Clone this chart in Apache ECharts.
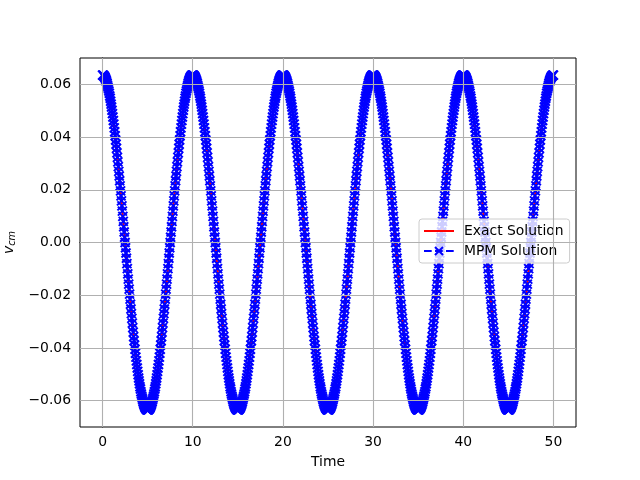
<!DOCTYPE html>
<html>
<head>
<meta charset="utf-8">
<script src="https://cdn.jsdelivr.net/npm/echarts@6/dist/echarts.min.js"></script>
<style>
  html, body { margin: 0; padding: 0; background: #fff; }
  #chart { width: 640px; height: 480px; }
</style>
</head>
<body>
<div id="chart"></div>
<script>
// sample spacing along Time (points read every 0.05)
const timeStep = 0.05;

// v_cm, one array per period (t = 0..10, 10..20, ...)
const vcmCycle1 = [
  .0635,.0635,.0634,.0632,.0630,.0627,.0624,.0620,.0615,.0610,
  .0604,.0597,.0590,.0583,.0575,.0566,.0556,.0547,.0536,.0525,
  .0514,.0502,.0489,.0476,.0463,.0449,.0435,.0420,.0405,.0389,
  .0373,.0357,.0340,.0323,.0306,.0288,.0270,.0252,.0234,.0215,
  .0196,.0177,.0158,.0139,.0119,.0099,.0080,.0060,.0040,.0020,
  0,-.0020,-.0040,-.0060,-.0080,-.0099,-.0119,-.0139,-.0158,-.0177,
  -.0196,-.0215,-.0234,-.0252,-.0270,-.0288,-.0306,-.0323,-.0340,-.0357,
  -.0373,-.0389,-.0405,-.0420,-.0435,-.0449,-.0463,-.0476,-.0489,-.0502,
  -.0514,-.0525,-.0536,-.0547,-.0556,-.0566,-.0575,-.0583,-.0590,-.0597,
  -.0604,-.0610,-.0615,-.0620,-.0624,-.0627,-.0630,-.0632,-.0634,-.0635,
  -.0635,-.0635,-.0634,-.0632,-.0630,-.0627,-.0624,-.0620,-.0615,-.0610,
  -.0604,-.0597,-.0590,-.0583,-.0575,-.0566,-.0556,-.0547,-.0536,-.0525,
  -.0514,-.0502,-.0489,-.0476,-.0463,-.0449,-.0435,-.0420,-.0405,-.0389,
  -.0373,-.0357,-.0340,-.0323,-.0306,-.0288,-.0270,-.0252,-.0234,-.0215,
  -.0196,-.0177,-.0158,-.0139,-.0119,-.0099,-.0080,-.0060,-.0040,-.0020,
  0,.0020,.0040,.0060,.0080,.0099,.0119,.0139,.0158,.0177,
  .0196,.0215,.0234,.0252,.0270,.0288,.0306,.0323,.0340,.0357,
  .0373,.0389,.0405,.0420,.0435,.0449,.0463,.0476,.0489,.0502,
  .0514,.0525,.0536,.0547,.0556,.0566,.0575,.0583,.0590,.0597,
  .0604,.0610,.0615,.0620,.0624,.0627,.0630,.0632,.0634,.0635
];
const vcmCycle2 = [
  .0635,.0635,.0634,.0632,.0630,.0627,.0624,.0620,.0615,.0610,
  .0604,.0597,.0590,.0583,.0575,.0566,.0556,.0547,.0536,.0525,
  .0514,.0502,.0489,.0476,.0463,.0449,.0435,.0420,.0405,.0389,
  .0373,.0357,.0340,.0323,.0306,.0288,.0270,.0252,.0234,.0215,
  .0196,.0177,.0158,.0139,.0119,.0099,.0080,.0060,.0040,.0020,
  0,-.0020,-.0040,-.0060,-.0080,-.0099,-.0119,-.0139,-.0158,-.0177,
  -.0196,-.0215,-.0234,-.0252,-.0270,-.0288,-.0306,-.0323,-.0340,-.0357,
  -.0373,-.0389,-.0405,-.0420,-.0435,-.0449,-.0463,-.0476,-.0489,-.0502,
  -.0514,-.0525,-.0536,-.0547,-.0556,-.0566,-.0575,-.0583,-.0590,-.0597,
  -.0604,-.0610,-.0615,-.0620,-.0624,-.0627,-.0630,-.0632,-.0634,-.0635,
  -.0635,-.0635,-.0634,-.0632,-.0630,-.0627,-.0624,-.0620,-.0615,-.0610,
  -.0604,-.0597,-.0590,-.0583,-.0575,-.0566,-.0556,-.0547,-.0536,-.0525,
  -.0514,-.0502,-.0489,-.0476,-.0463,-.0449,-.0435,-.0420,-.0405,-.0389,
  -.0373,-.0357,-.0340,-.0323,-.0306,-.0288,-.0270,-.0252,-.0234,-.0215,
  -.0196,-.0177,-.0158,-.0139,-.0119,-.0099,-.0080,-.0060,-.0040,-.0020,
  0,.0020,.0040,.0060,.0080,.0099,.0119,.0139,.0158,.0177,
  .0196,.0215,.0234,.0252,.0270,.0288,.0306,.0323,.0340,.0357,
  .0373,.0389,.0405,.0420,.0435,.0449,.0463,.0476,.0489,.0502,
  .0514,.0525,.0536,.0547,.0556,.0566,.0575,.0583,.0590,.0597,
  .0604,.0610,.0615,.0620,.0624,.0627,.0630,.0632,.0634,.0635
];
const vcmCycle3 = [
  .0635,.0635,.0634,.0632,.0630,.0627,.0624,.0620,.0615,.0610,
  .0604,.0597,.0590,.0583,.0575,.0566,.0556,.0547,.0536,.0525,
  .0514,.0502,.0489,.0476,.0463,.0449,.0435,.0420,.0405,.0389,
  .0373,.0357,.0340,.0323,.0306,.0288,.0270,.0252,.0234,.0215,
  .0196,.0177,.0158,.0139,.0119,.0099,.0080,.0060,.0040,.0020,
  0,-.0020,-.0040,-.0060,-.0080,-.0099,-.0119,-.0139,-.0158,-.0177,
  -.0196,-.0215,-.0234,-.0252,-.0270,-.0288,-.0306,-.0323,-.0340,-.0357,
  -.0373,-.0389,-.0405,-.0420,-.0435,-.0449,-.0463,-.0476,-.0489,-.0502,
  -.0514,-.0525,-.0536,-.0547,-.0556,-.0566,-.0575,-.0583,-.0590,-.0597,
  -.0604,-.0610,-.0615,-.0620,-.0624,-.0627,-.0630,-.0632,-.0634,-.0635,
  -.0635,-.0635,-.0634,-.0632,-.0630,-.0627,-.0624,-.0620,-.0615,-.0610,
  -.0604,-.0597,-.0590,-.0583,-.0575,-.0566,-.0556,-.0547,-.0536,-.0525,
  -.0514,-.0502,-.0489,-.0476,-.0463,-.0449,-.0435,-.0420,-.0405,-.0389,
  -.0373,-.0357,-.0340,-.0323,-.0306,-.0288,-.0270,-.0252,-.0234,-.0215,
  -.0196,-.0177,-.0158,-.0139,-.0119,-.0099,-.0080,-.0060,-.0040,-.0020,
  0,.0020,.0040,.0060,.0080,.0099,.0119,.0139,.0158,.0177,
  .0196,.0215,.0234,.0252,.0270,.0288,.0306,.0323,.0340,.0357,
  .0373,.0389,.0405,.0420,.0435,.0449,.0463,.0476,.0489,.0502,
  .0514,.0525,.0536,.0547,.0556,.0566,.0575,.0583,.0590,.0597,
  .0604,.0610,.0615,.0620,.0624,.0627,.0630,.0632,.0634,.0635
];
const vcmCycle4 = [
  .0635,.0635,.0634,.0632,.0630,.0627,.0624,.0620,.0615,.0610,
  .0604,.0597,.0590,.0583,.0575,.0566,.0556,.0547,.0536,.0525,
  .0514,.0502,.0489,.0476,.0463,.0449,.0435,.0420,.0405,.0389,
  .0373,.0357,.0340,.0323,.0306,.0288,.0270,.0252,.0234,.0215,
  .0196,.0177,.0158,.0139,.0119,.0099,.0080,.0060,.0040,.0020,
  0,-.0020,-.0040,-.0060,-.0080,-.0099,-.0119,-.0139,-.0158,-.0177,
  -.0196,-.0215,-.0234,-.0252,-.0270,-.0288,-.0306,-.0323,-.0340,-.0357,
  -.0373,-.0389,-.0405,-.0420,-.0435,-.0449,-.0463,-.0476,-.0489,-.0502,
  -.0514,-.0525,-.0536,-.0547,-.0556,-.0566,-.0575,-.0583,-.0590,-.0597,
  -.0604,-.0610,-.0615,-.0620,-.0624,-.0627,-.0630,-.0632,-.0634,-.0635,
  -.0635,-.0635,-.0634,-.0632,-.0630,-.0627,-.0624,-.0620,-.0615,-.0610,
  -.0604,-.0597,-.0590,-.0583,-.0575,-.0566,-.0556,-.0547,-.0536,-.0525,
  -.0514,-.0502,-.0489,-.0476,-.0463,-.0449,-.0435,-.0420,-.0405,-.0389,
  -.0373,-.0357,-.0340,-.0323,-.0306,-.0288,-.0270,-.0252,-.0234,-.0215,
  -.0196,-.0177,-.0158,-.0139,-.0119,-.0099,-.0080,-.0060,-.0040,-.0020,
  0,.0020,.0040,.0060,.0080,.0099,.0119,.0139,.0158,.0177,
  .0196,.0215,.0234,.0252,.0270,.0288,.0306,.0323,.0340,.0357,
  .0373,.0389,.0405,.0420,.0435,.0449,.0463,.0476,.0489,.0502,
  .0514,.0525,.0536,.0547,.0556,.0566,.0575,.0583,.0590,.0597,
  .0604,.0610,.0615,.0620,.0624,.0627,.0630,.0632,.0634,.0635
];
const vcmCycle5 = [
  .0635,.0635,.0634,.0632,.0630,.0627,.0624,.0620,.0615,.0610,
  .0604,.0597,.0590,.0583,.0575,.0566,.0556,.0547,.0536,.0525,
  .0514,.0502,.0489,.0476,.0463,.0449,.0435,.0420,.0405,.0389,
  .0373,.0357,.0340,.0323,.0306,.0288,.0270,.0252,.0234,.0215,
  .0196,.0177,.0158,.0139,.0119,.0099,.0080,.0060,.0040,.0020,
  0,-.0020,-.0040,-.0060,-.0080,-.0099,-.0119,-.0139,-.0158,-.0177,
  -.0196,-.0215,-.0234,-.0252,-.0270,-.0288,-.0306,-.0323,-.0340,-.0357,
  -.0373,-.0389,-.0405,-.0420,-.0435,-.0449,-.0463,-.0476,-.0489,-.0502,
  -.0514,-.0525,-.0536,-.0547,-.0556,-.0566,-.0575,-.0583,-.0590,-.0597,
  -.0604,-.0610,-.0615,-.0620,-.0624,-.0627,-.0630,-.0632,-.0634,-.0635,
  -.0635,-.0635,-.0634,-.0632,-.0630,-.0627,-.0624,-.0620,-.0615,-.0610,
  -.0604,-.0597,-.0590,-.0583,-.0575,-.0566,-.0556,-.0547,-.0536,-.0525,
  -.0514,-.0502,-.0489,-.0476,-.0463,-.0449,-.0435,-.0420,-.0405,-.0389,
  -.0373,-.0357,-.0340,-.0323,-.0306,-.0288,-.0270,-.0252,-.0234,-.0215,
  -.0196,-.0177,-.0158,-.0139,-.0119,-.0099,-.0080,-.0060,-.0040,-.0020,
  0,.0020,.0040,.0060,.0080,.0099,.0119,.0139,.0158,.0177,
  .0196,.0215,.0234,.0252,.0270,.0288,.0306,.0323,.0340,.0357,
  .0373,.0389,.0405,.0420,.0435,.0449,.0463,.0476,.0489,.0502,
  .0514,.0525,.0536,.0547,.0556,.0566,.0575,.0583,.0590,.0597,
  .0604,.0610,.0615,.0620,.0624,.0627,.0630,.0632,.0634,.0635
];
const vcmEnd = [.0635]; // t = 50

const xTicks = [0, 10, 20, 30, 40, 50];
const yTicks = [-0.06, -0.04, -0.02, 0, 0.02, 0.04, 0.06];

const vcm = [].concat(vcmCycle1, vcmCycle2, vcmCycle3, vcmCycle4, vcmCycle5, vcmEnd);
const points = vcm.map((v, i) => [+(i * timeStep).toFixed(2), v]);

const FONT = 'DejaVu Sans';
const chart = echarts.init(document.getElementById('chart'));

// grid lines via markLine so they sit on the tick values, not on min
const gridLines = xTicks.map(x => ({ xAxis: x })).concat(yTicks.map(y => ({ yAxis: y })));

const option = {
  animation: false,
  textStyle: { fontFamily: FONT },
  grid: {
    left: 80, right: 64, top: 58, bottom: 53,
    outerBoundsMode: 'none',
    containLabel: false,
    show: true, borderColor: '#000', borderWidth: 1, backgroundColor: 'transparent'
  },
  legend: {
    data: [
      { name: 'Exact Solution', itemStyle: { opacity: 0 } },
      { name: 'MPM Solution' }
    ],
    orient: 'vertical',
    left: 419, top: 219,
    padding: [5, 6, 5, 4],
    itemGap: 6,
    itemWidth: 30, itemHeight: 10,
    backgroundColor: 'rgba(255,255,255,0.8)',
    borderColor: '#cccccc', borderWidth: 1, borderRadius: 3,
    textStyle: { fontFamily: FONT, fontSize: 13.9, color: '#000', padding: [0, 0, 0, 5] }
  },
  xAxis: {
    type: 'value',
    min: -2.5, max: 52.5,
    name: 'Time', nameLocation: 'middle', nameGap: 28,
    nameTextStyle: { fontFamily: FONT, fontSize: 13.9, color: '#000' },
    axisLine: { show: true, lineStyle: { color: '#000', width: 1 } },
    axisTick: { show: true, length: 5, lineStyle: { color: '#000', width: 1 }, customValues: xTicks },
    axisLabel: { fontFamily: FONT, fontSize: 13.9, color: '#000', margin: 8, customValues: xTicks,
      formatter: v => String(v) },
    splitLine: { show: false }
  },
  yAxis: {
    type: 'value',
    min: -0.07, max: 0.07,
    name: '{v|v}{s|cm}', nameLocation: 'middle', nameGap: 57, nameRotate: 90,
    nameTextStyle: {
      color: '#000',
      rich: {
        v: { fontFamily: FONT, fontStyle: 'italic', fontSize: 13.9, color: '#000' },
        s: { fontFamily: FONT, fontStyle: 'italic', fontSize: 9.7, color: '#000', padding: [6, 0, 0, 0] }
      }
    },
    axisLine: { show: true, lineStyle: { color: '#000', width: 1 } },
    axisTick: { show: true, length: 5, lineStyle: { color: '#000', width: 1 }, customValues: yTicks },
    axisLabel: { fontFamily: FONT, fontSize: 13.9, color: '#000', margin: 9, customValues: yTicks,
      formatter: v => v.toFixed(2).replace('-', '\u2212') },
    splitLine: { show: false }
  },
  series: [
    {
      name: 'grid',
      type: 'line',
      data: [],
      z: 1,
      silent: true,
      markLine: {
        silent: true,
        symbol: 'none',
        label: { show: false },
        lineStyle: { color: '#b0b0b0', width: 1.1, type: 'solid' },
        data: gridLines
      }
    },
    {
      name: 'Exact Solution',
      type: 'line',
      data: points,
      z: 2,
      showSymbol: false,
      symbol: 'none',
      lineStyle: { color: '#ff0000', width: 2.1 },
      itemStyle: { color: '#ff0000' }
    },
    {
      name: 'MPM Solution',
      type: 'line',
      data: points,
      z: 3,
      showSymbol: true,
      showAllSymbol: true,
      symbol: 'path://M0,0L10,10M10,0L0,10',
      symbolSize: 9,
      lineStyle: { color: '#0000ff', width: 2.1, type: [7.7, 3.3] },
      itemStyle: { color: '#0000ff', borderColor: '#0000ff', borderWidth: 2 }
    }
  ]
};

chart.setOption(option);
</script>
</body>
</html>
